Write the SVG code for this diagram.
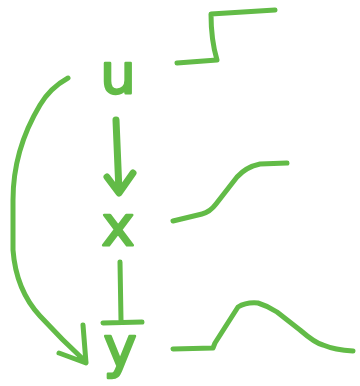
<svg xmlns="http://www.w3.org/2000/svg" width="360" height="386" viewBox="0 0 360 386">
<style>
.s{fill:none;stroke:#62bb47;stroke-linecap:round;stroke-linejoin:round}
.t{fill:#62bb47;stroke:#62bb47;stroke-width:2.5;stroke-linejoin:round;font-family:"DejaVu Sans",sans-serif;font-size:56px;text-anchor:middle}
</style>
<rect width="360" height="386" fill="#fff"/>
<g id="node-u"><text class="t" x="118" y="93">u</text></g>
<g id="node-x"><text class="t" x="118" y="245">x</text></g>
<g id="node-y"><text class="t" x="120" y="366">y</text></g>
<g id="plot-step"><path class="s" stroke-width="5" d="M177,63 L217,60 Q211,40 211,14 L275,10"/></g>
<g id="plot-sigmoid"><path class="s" stroke-width="5" d="M173,221 L202,214 Q210,212 216,204 L237,177 Q246,167 260,164 L287,163"/></g>
<g id="plot-bump"><path class="s" stroke-width="5" d="M173,349 L213,348 L215,343 L238,307 Q246,302 258,303 Q268,306 277,312 L300,330 Q315,343 323,345 Q335,350 353,351"/></g>
<g id="connectors">
<path class="s" stroke-width="7" d="M116,120 L119,192 M107,177 L119,193 L133,173"/>
<path class="s" stroke-width="5" d="M120,262 L121,320 M103,323 L142,322"/>
<path class="s" stroke-width="5" d="M68,78 Q50,88 40,105 Q13,150 13,200 L13,250 Q16,290 40,316 Q62,340 86,362 M59,353 L86,363 L83,325"/>
</g>
</svg>
